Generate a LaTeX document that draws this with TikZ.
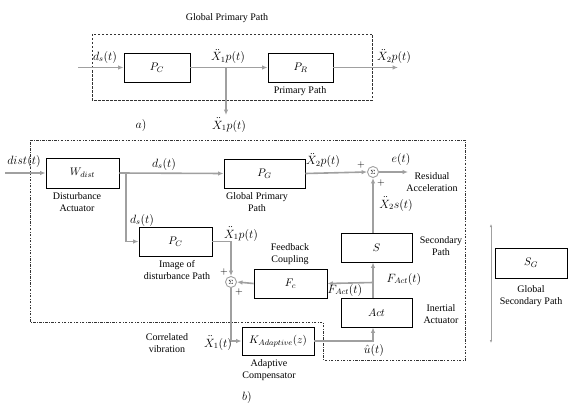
\documentclass[tikz,border=0pt]{standalone}
\usepackage{fontspec}
\setmainfont{Liberation Serif}
\usetikzlibrary{arrows.meta}
\definecolor{wire}{RGB}{160,160,160}
\begin{document}
\begin{tikzpicture}[x=1pt,y=-1pt,
  font=\fontsize{10}{11.5}\selectfont,
  blk/.style={draw=black,line width=0.8pt,fill=white,minimum width=#1,minimum height=29pt,inner sep=0pt,font=\fontsize{11}{12}\selectfont},
  sumn/.style={draw=wire,line width=0.9pt,circle,minimum size=11pt,inner sep=0pt,fill=white,font=\fontsize{6.5}{6.5}\selectfont},
  wr/.style={draw=wire,line width=1.6pt},
  ar/.style={wr,-{Latex[length=5.5pt,width=4.5pt]}},
  lbl/.style={align=center,inner sep=0pt},
  mlbl/.style={inner sep=0pt,font=\fontsize{11.5}{12}\selectfont},
  bnd/.style={draw=black!80,line width=0.8pt}
]
\useasboundingbox (0,0) rectangle (578,404);

% ---------- part a ----------
\node[lbl] (ta) at (227,18) {Global Primary Path};
\draw[bnd,dash pattern=on 2.5pt off 1.5pt] (92,34) rectangle (372,100);
\node[blk=66pt] (PCa) at (157,67.5) {$P_C$};
\node[blk=65pt] (PRa) at (300.5,67.5) {$P_R$};
\coordinate (ina) at (78,67.5);
\coordinate (outa) at (398,67.5);
\coordinate (ba) at (226,67.5);
\coordinate (da) at (226,115);
\draw[ar] (ina) -- (PCa.west);
\draw[ar] (PCa.east) -- (PRa.west);
\draw[ar] (PRa.east) -- (outa);
\draw[ar] (ba) -- (da);
\node[mlbl] (lds) at (105,57) {$d_s(t)$};
\node[mlbl] (lx1a) at (228,57) {$\ddot{X}_1p(t)$};
\node[mlbl] (lx2a) at (394,57) {$\ddot{X}_2p(t)$};
\node[mlbl] (lx1b) at (229,125) {$\ddot{X}_1p(t)$};
\node[lbl] (lpp) at (300,91) {Primary Path};
\node[mlbl] (la) at (141,125) {$a)$};

% ---------- part b ----------
\draw[bnd,dash pattern=on 2.5pt off 1.5pt on 0.6pt off 1.5pt]
  (30,140) -- (465,140) -- (465,360) -- (323,360) -- (323,322) -- (30,322) -- cycle;

\node[blk=73pt,minimum height=30pt] (W) at (82.5,173) {$W_{dist}$};
\node[blk=81pt] (PG) at (264.5,173.5) {$P_G$};
\node[blk=73pt] (PCb) at (175.5,241.5) {$P_C$};
\node[blk=73pt] (Fc) at (290.5,283.5) {$F_c$};
\node[blk=71pt] (S) at (376.5,247.5) {$S$};
\node[blk=71pt] (Act) at (376.5,312.5) {$Act$};
\node[blk=72pt,minimum height=28pt] (K) at (278,341) {$K_{Adaptive}(z)$};
\node[blk=72pt,minimum height=30pt] (SG) at (531,263) {$S_G$};
\node[sumn] (s1) at (231,282) {$\Sigma$};
\node[sumn] (s2) at (373,172) {$\Sigma$};

\coordinate (din) at (5,173);
\coordinate (bw) at (126,173);
\coordinate (eout) at (408,172);
\coordinate (bf) at (373,282.5);
\coordinate (gtop) at (491,224);
\coordinate (gbot) at (491,343);

\draw[ar] (din) -- (W.west);
\draw[ar] (W.east) -- (PG.west);
\draw[ar] (bw) |- (PCb.west);
\draw[ar] (PCb.east) -| (s1.north);
\draw[ar] (Fc.west) -- (s1.east);
\draw[ar] (s1.south) |- (K.west);
\draw[ar] (K.east) -| (Act.south -| s2);
\draw[ar] (Act.north -| s2) -- (S.south -| s2);
\draw[ar] (bf) -- (Fc.east);
\draw[ar] (S.north -| s2) -- (s2.south);
\draw[ar] (PG.east) -- (s2.west);
\draw[ar] (s2.east) -- (eout);
\draw[draw=wire,line width=0.7pt,{Latex[length=3pt,width=2.5pt]}-{Latex[length=3pt,width=2.5pt]}] (gtop) -- (gbot);

\node[mlbl] (ldist) at (24,161) {$dist(t)$};
\node[lbl] (lda) at (77,202) {Disturbance\\Actuator};
\node[mlbl] (lds1) at (164,164) {$d_s(t)$};
\node[lbl] (lgpp) at (257,202) {Global Primary\\Path};
\node[mlbl] (lds2) at (142,220) {$d_s(t)$};
\node[lbl] (limg) at (177,270) {Image of\\disturbance Path};
\node[mlbl] (lx1p) at (241,234) {$\ddot{X}_1p(t)$};
\node[lbl] (lp1) at (224,272) {$+$};
\node[lbl] (lp2) at (239,292) {$+$};
\node[lbl] (lfc) at (290,254) {Feedback\\Coupling};
\node[mlbl] (lfa1) at (345,290) {$F_{Act}(t)$};
\node[mlbl] (lfa2) at (404,279) {$F_{Act}(t)$};
\node[mlbl] (lx2p) at (323,161) {$\ddot{X}_2p(t)$};
\node[lbl] (lp3) at (361,165) {$+$};
\node[lbl] (lp4) at (381,183) {$+$};
\node[mlbl] (le) at (401,159) {$e(t)$};
\node[lbl] (lres) at (432,182) {Residual\\Acceleration};
\node[mlbl] (lx2s) at (396,204) {$\ddot{X}_2s(t)$};
\node[lbl] (lsp) at (441,246) {Secondary\\Path};
\node[lbl] (lia) at (441,314) {Inertial\\Actuator};
\node[mlbl] (lu) at (374,350) {$\hat{u}(t)$};
\node[lbl] (lcv) at (167,343) {Correlated\\vibration};
\node[mlbl] (lx1) at (218,343) {$\ddot{X}_1(t)$};
\node[lbl] (lac) at (269,370) {Adaptive\\Compensator};
\node[mlbl] (lb) at (247,397) {$b)$};
\node[lbl] (lgsp) at (531,296) {Global\\Secondary Path};
\end{tikzpicture}
\end{document}
